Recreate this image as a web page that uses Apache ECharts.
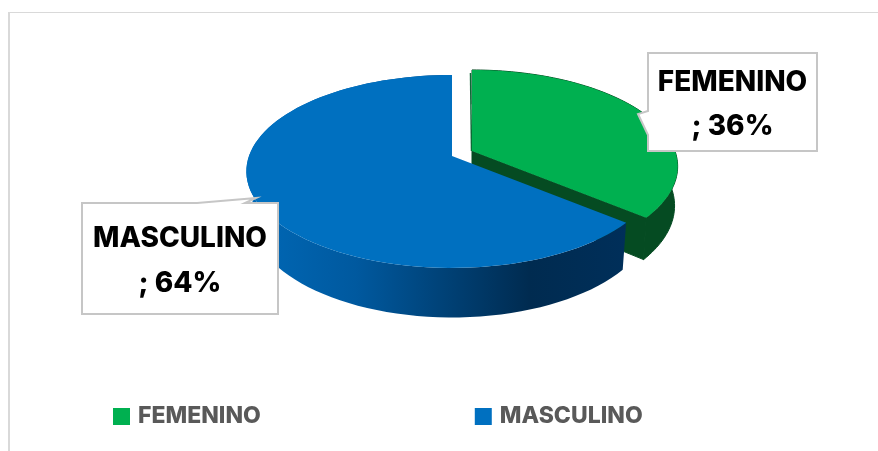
<!DOCTYPE html>
<html>
<head>
<meta charset="utf-8">
<style>
html, body { margin: 0; padding: 0; background: #fff; }
#chart { width: 878px; height: 451px; }
</style>
<script src="https://cdn.jsdelivr.net/npm/echarts@6/dist/echarts.min.js"></script>
</head>
<body>
<div id="chart"></div>
<script>
var categories = ['FEMENINO', 'MASCULINO'];
var percents = [36, 64];

var topColors = ['#00B050', '#0070C0'];
var total = percents.reduce(function (a, b) { return a + b; }, 0);

// layout of the tilted pie
var radius = 203;
var tilt = 94;
var perspective = 0.16;
var depths = [38.5, 43.5];
var bottomScales = [0.985, 0.98];
var centers = [[472, 151], [452, 156]];
var boxes = [
  { x: 648, y: 53, w: 169, h: 98, lineHeight: 44, pointer: [[648, 111], [638, 114], [648, 135]] },
  { x: 82, y: 203, w: 196, h: 111, lineHeight: 45, pointer: [[245, 203], [256, 198], [197, 203]] }
];
var fontName = 'Inter';

function rimPoint(i, angle, isBottom) {
  var center = centers[i];
  var p = 1 / (1 + perspective * Math.cos(angle));
  var dx = radius * Math.sin(angle) * p;
  var dy = -tilt * Math.cos(angle) * p;
  if (isBottom) {
    return [center[0] + dx * bottomScales[i], center[1] + dy * bottomScales[i] + depths[i] * p];
  }
  return [center[0] + dx, center[1] + dy];
}

function rim(i, from, to, isBottom) {
  var pts = [];
  var steps = 90;
  for (var k = 0; k <= steps; k++) {
    pts.push(rimPoint(i, from + (to - from) * k / steps, isBottom));
  }
  return pts;
}

function sliceAngles(index) {
  var before = 0;
  for (var i = 0; i < index; i++) before += percents[i];
  return [before / total * Math.PI * 2, (before + percents[index]) / total * Math.PI * 2];
}

function sideFill(index) {
  if (index === 0) return '#054B22';
  return {
    type: 'linear', x: 250, y: 0, x2: 628, y2: 0, global: true,
    colorStops: [
      { offset: 0, color: '#0068B6' },
      { offset: 0.28, color: '#00599F' },
      { offset: 0.5, color: '#004379' },
      { offset: 0.74, color: '#002B50' },
      { offset: 1, color: '#002F5A' }
    ]
  };
}

function callout(index) {
  var b = boxes[index];
  var tl = [b.x, b.y], tr = [b.x + b.w, b.y], br = [b.x + b.w, b.y + b.h], bl = [b.x, b.y + b.h];
  var pts = index === 0
    ? [tl, tr, br, bl].concat(b.pointer.slice().reverse())
    : [tl].concat(b.pointer.slice().reverse()).concat([tr, br, bl]);
  return {
    type: 'polygon',
    shape: { points: pts },
    style: { fill: '#fff', stroke: '#C6C6C6', lineWidth: 2 }
  };
}

function renderSlice(params, api) {
  var i = params.seriesIndex;
  var angles = sliceAngles(i);
  var c = centers[i];
  var topRim = rim(i, angles[0], angles[1], false);
  var bottomRim = rim(i, angles[0], angles[1], true);
  var endTop = topRim[topRim.length - 1];
  var endBottom = bottomRim[bottomRim.length - 1];
  var apexBottom = [c[0], c[1] + depths[i]];
  var b = boxes[i];
  var lines = categories[i] + '\n; ' + api.value(0) + '%';
  var children = [];
  if (i === 0) {
    // the cut wall of the pulled out slice, blue covers most of it
    children.push({
      type: 'polygon',
      shape: { points: [c, endTop, endBottom, apexBottom] },
      style: { fill: '#054B22', stroke: '#054B22', lineWidth: 1 }
    });
  }
  children.push({
    type: 'polygon',
    shape: { points: topRim.concat(bottomRim.slice().reverse()) },
    style: { fill: sideFill(i), stroke: i === 0 ? '#054B22' : null, lineWidth: 1 }
  });
  if (i === 0) {
    children.push({
      type: 'polyline',
      shape: { points: [[c[0] - 0.5, c[1]], [topRim[0][0] - 1.5, topRim[0][1] + 3]] },
      style: { stroke: '#0B6B35', lineWidth: 1.5, fill: null }
    });
  }
  children.push({ type: 'polygon', shape: { points: [c].concat(topRim) }, style: { fill: topColors[i] } });
  children.push(callout(i));
  children.push({
    type: 'text',
    x: b.x + b.w / 2,
    y: b.y + b.h / 2 + 3,
    style: {
      text: lines,
      fill: '#000',
      font: '800 28px ' + fontName,
      lineHeight: b.lineHeight,
      align: 'center',
      verticalAlign: 'middle'
    }
  });
  return { type: 'group', children: children };
}

var chart = echarts.init(document.getElementById('chart'), null, { renderer: 'canvas' });
chart.setOption({
  animation: false,
  backgroundColor: '#fff',
  legend: {
    data: categories,
    left: 113,
    top: 405,
    padding: 0,
    icon: 'rect',
    itemWidth: 17,
    itemHeight: 17,
    itemGap: 214,
    textStyle: { color: '#595959', fontFamily: fontName, fontWeight: 800, fontSize: 23, padding: [0, 0, 4, 3] },
    selectedMode: false
  },
  graphic: [
    { type: 'rect', shape: { x: 8, y: 12, width: 870, height: 1 }, style: { fill: '#D9D9D9' }, silent: true },
    { type: 'rect', shape: { x: 8, y: 12, width: 2, height: 439 }, style: { fill: '#D9D9D9' }, silent: true }
  ],
  series: categories.map(function (name, i) {
    return {
      type: 'custom',
      name: name,
      coordinateSystem: 'none',
      silent: true,
      itemStyle: { color: topColors[i] },
      renderItem: renderSlice,
      data: [[percents[i]]]
    };
  })
});
</script>
</body>
</html>
